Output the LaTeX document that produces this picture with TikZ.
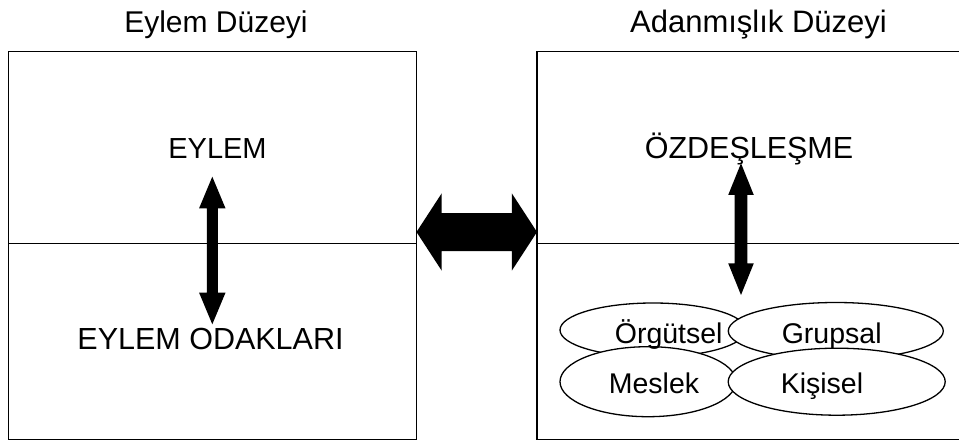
\documentclass[tikz,border=0pt]{standalone}
\usepackage{fontspec}
\setmainfont{Liberation Sans}
\usetikzlibrary{shapes.geometric}

\tikzset{
  panel/.style={draw=black, line width=1.8pt},
  divider/.style={draw=black, line width=1.5pt},
  title/.style={anchor=base, inner sep=0pt, font=\fontsize{30}{34}\selectfont},
  label/.style={anchor=base, inner sep=0pt, font=\fontsize{29}{34}\selectfont},
  biglabel/.style={anchor=base, inner sep=0pt, font=\fontsize{30.5}{35}\selectfont},
  small/.style={anchor=base, inner sep=0pt, font=\fontsize{28.5}{33}\selectfont},
  bubble/.style={ellipse, draw=black, fill=white, line width=1.3pt, inner sep=0pt},
  % solid double-headed block arrow: length / head length / head half-width / shaft half-width
  pics/dblarrow/.style n args={4}{code={
    \fill[black] (0,0) -- (#2,#3) -- (#2,#4) -- (#1-#2,#4) -- (#1-#2,#3) -- (#1,0)
      -- (#1-#2,-#3) -- (#1-#2,-#4) -- (#2,-#4) -- (#2,-#3) -- cycle;
  }}
}

\begin{document}
\begin{tikzpicture}[x=1pt, y=-1pt]
  \useasboundingbox (0,0) rectangle (959,441);

  % headings
  \node[title] (t1) at (216,33) {Eylem Düzeyi};
  \node[title, font=\fontsize{31}{35}\selectfont] (t2) at (758.5,33) {Adanmışlık Düzeyi};

  % left panel
  \draw[panel] (8.5,51.5) rectangle (416.5,439.5);
  \draw[divider] (8.5,243.3) -- (416.5,243.3);
  % right panel (runs past the right edge)
  \draw[panel] (537,51.5) rectangle (985,439.5);
  \draw[divider] (537,243.3) -- (985,243.3);

  % panel texts
  \node[label] (eylem) at (217.5,159) {EYLEM};
  \node[biglabel] (odak) at (210.5,349) {EYLEM ODAKLARI};
  \node[biglabel] (ozd) at (749,159) {ÖZDEŞLEŞME};

  % commitment foci
  \node[bubble, minimum width=186pt, minimum height=54pt] (org) at (653,330) {};
  \node[bubble, minimum width=215pt, minimum height=57pt] (grp) at (835.8,331) {};
  \node[bubble, minimum width=176pt, minimum height=70pt] (mes) at (648,381.7) {};
  \node[bubble, minimum width=217pt, minimum height=67pt] (kis) at (836.7,381.7) {};
  \node[small] (orgt) at (668.7,343.3) {Örgütsel};
  \node[small] (grpt) at (831.7,343.3) {Grupsal};
  \node[small] (mest) at (654,393.3) {Meslek};
  \node[small] (kist) at (822,393.3) {Kişisel};

  % block arrows
  \pic[rotate=-90] (la) at (212.3,176.7) {dblarrow={147.6}{31.6}{13.2}{5.5}};
  \pic[rotate=-90] (ra) at (741,163.3) {dblarrow={131.7}{31.7}{12.8}{6.3}};
  \pic (ha) at (416.5,232) {dblarrow={120.5}{25.2}{38.7}{19}};
\end{tikzpicture}
\end{document}
